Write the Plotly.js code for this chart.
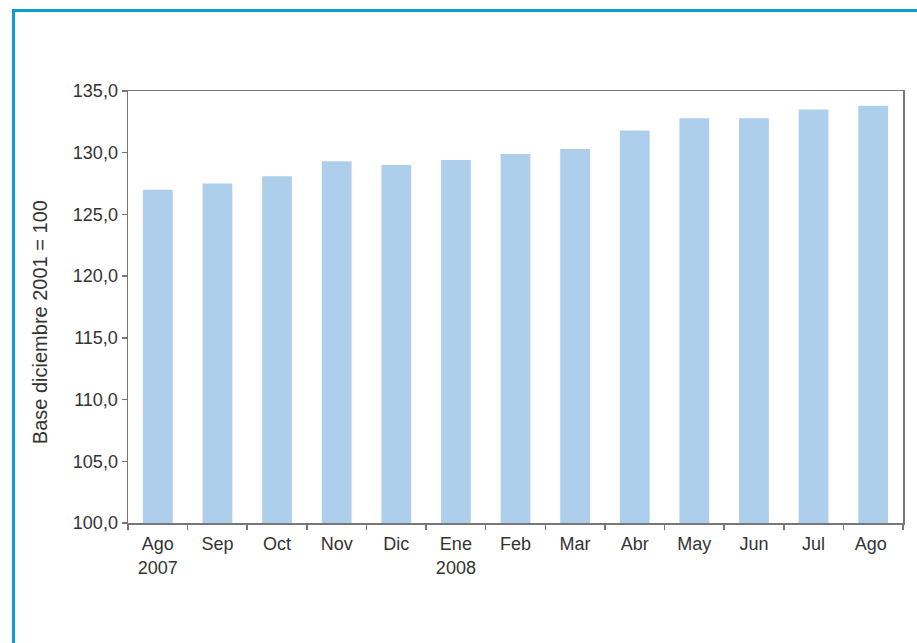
<!DOCTYPE html>
<html>
<head>
<meta charset="utf-8">
<script src="https://cdn.plot.ly/plotly-3.0.1.min.js"></script>
<style>
html,body{margin:0;padding:0;background:#fff;}
#frame{position:absolute;left:12px;top:9px;width:905px;height:634px;border-left:3px solid #0a9fd2;border-top:3px solid #0a9fd2;box-sizing:border-box;}
#chart{position:absolute;left:0;top:0;width:917px;height:643px;}
</style>
</head>
<body>
<div id="frame"></div>
<div id="chart"></div>
<script>
var categories = ["Ago<br>2007","Sep","Oct","Nov","Dic","Ene<br>2008","Feb","Mar","Abr","May","Jun","Jul","Ago "];
var values = [127.0,127.5,128.1,129.3,129.0,129.4,129.9,130.3,131.8,132.8,132.8,133.5,133.8];
var yTicks = [100,105,110,115,120,125,130,135];
var yTitle = "Base diciembre 2001 = 100";

var trace = {
  type:"bar", x:categories, y:values,
  marker:{color:"#aecfec"},
  hoverinfo:"x+y"
};
var layout = {
  width:917, height:643,
  margin:{l:128,r:14,t:91,b:120},
  paper_bgcolor:"rgba(0,0,0,0)", plot_bgcolor:"rgba(0,0,0,0)",
  bargap:0.5,
  separators:",.",
  font:{family:"Liberation Sans, Arial, sans-serif", color:"#333", size:18},
  showlegend:false,
  xaxis:{type:"category", showline:true, linecolor:"#777", linewidth:1.5, mirror:true,
    ticks:"outside", tickson:"boundaries", ticklen:5, tickcolor:"#777", tickwidth:1.5,
    ticklabelstandoff:4,
    showgrid:false, tickfont:{size:18, color:"#333"}},
  yaxis:{range:[100,135], tickvals:yTicks, tickformat:".1f", showline:true, linecolor:"#777", linewidth:1.5, mirror:true,
    ticks:"outside", ticklen:5, tickcolor:"#777", tickwidth:1.5, showgrid:false, zeroline:false,
    tickfont:{size:18, color:"#333"}},
  annotations:[{text:yTitle, xref:"paper", yref:"paper", x:-0.1135, y:0.465,
    xanchor:"center", yanchor:"middle", textangle:-90, showarrow:false,
    font:{size:20, color:"#333"}}]
};
Plotly.newPlot("chart",[trace],layout,{displayModeBar:false,staticPlot:true});
</script>
</body>
</html>
